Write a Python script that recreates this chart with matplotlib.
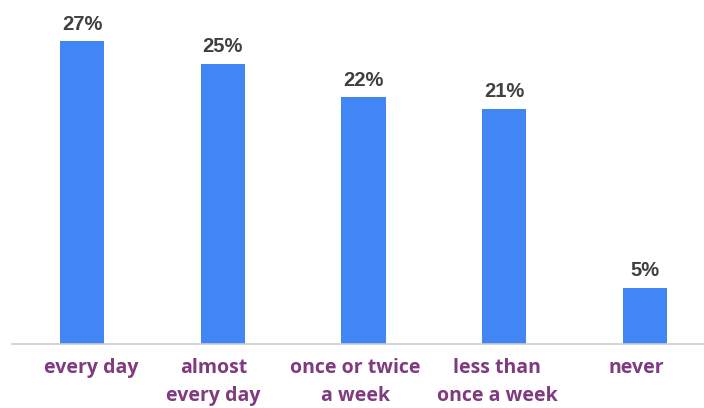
import matplotlib.pyplot as plt
from matplotlib.transforms import blended_transform_factory, offset_copy

# data
categories = ['every day', 'almost\nevery day', 'once or twice\na week',
              'less than\nonce a week', 'never']
shares = [27, 25, 22, 21, 5]
labels = ['27%', '25%', '22%', '21%', '5%']

# small horizontal nudges (px) for the category labels, as in the original
label_shift = [9, -9, -8, -7, -9]

fig = plt.figure(figsize=(7.04, 4.08), dpi=100)
ax = fig.add_axes([12 / 704, 64 / 408, 692 / 704, 344 / 408])

x = list(range(len(categories)))
ax.bar(x, shares, width=0.313, color='#4285f4', zorder=2)

# value labels above bars
for xi, v, lab in zip(x, shares, labels):
    ax.annotate(lab, (xi, v), xytext=(0, 8.5), textcoords='offset points',
                ha='center', va='baseline', fontsize=14.5, fontweight='bold',
                color='#404040', family='Liberation Sans')

ax.set_xlim(-0.497, 4.419)
ax.set_ylim(0, 30.7)

# category labels under the axis
base = blended_transform_factory(ax.transData, ax.transAxes)
for xi, cat, dx in zip(x, categories, label_shift):
    tr = offset_copy(base, fig=fig, x=dx, y=-14, units='dots')
    ax.text(xi, 0, cat, transform=tr, ha='center', va='top',
            fontsize=14, fontweight='bold', color='#7f3a80',
            family='Open Sans', linespacing=1.55)

ax.set_xticks([])
ax.set_yticks([])

for s in ['top', 'right', 'left']:
    ax.spines[s].set_visible(False)
ax.spines['bottom'].set_color('#cccccc')
ax.spines['bottom'].set_linewidth(1.2)

plt.savefig('out.png', dpi=100)
